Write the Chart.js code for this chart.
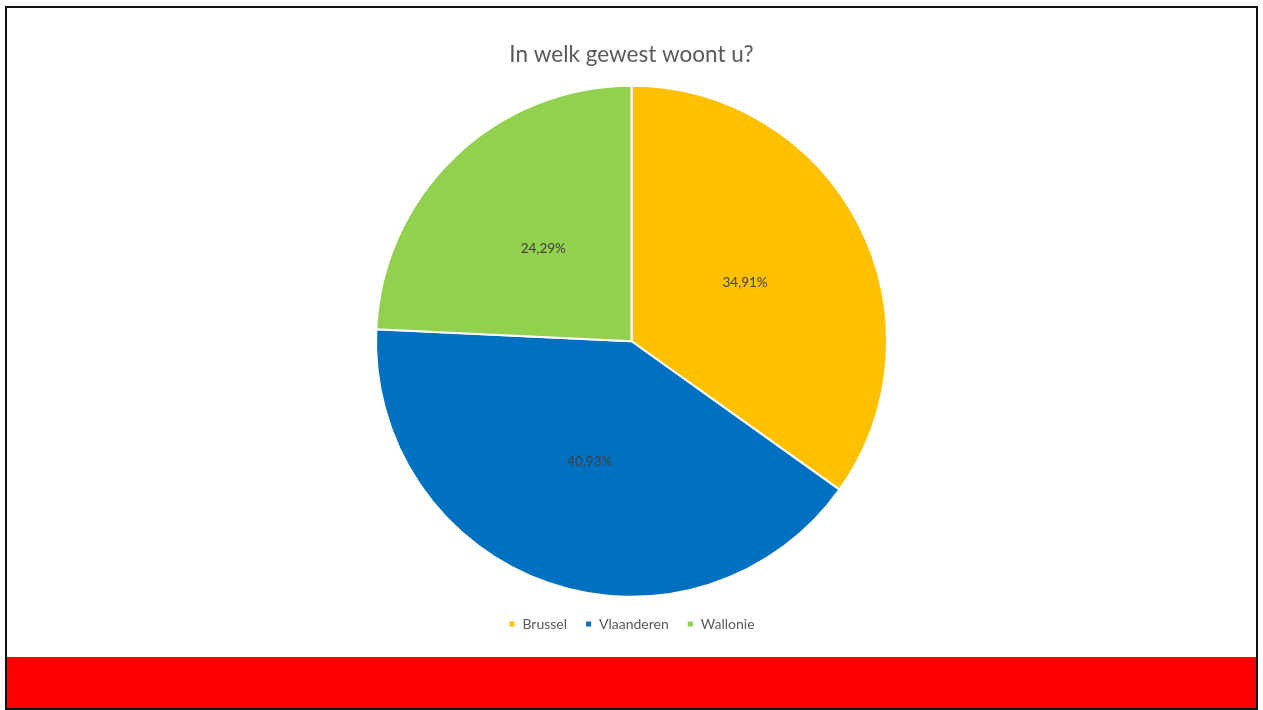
<!DOCTYPE html>
<html lang="nl">
<head>
    <meta charset="UTF-8">
    <title>In welk gewest woont u?</title>
    <script src="https://cdn.jsdelivr.net/npm/chart.js"></script>
    <style>
        html, body {
            margin: 0;
            padding: 0;
            background: white;
            width: 1263px;
            height: 710px;
            overflow: hidden;
        }
        .kader {
            position: absolute;
            left: 5px;
            top: 6px;
            width: 1253px;
            height: 704px;
            border: 2px solid #111;
            box-sizing: border-box;
        }
        .band {
            position: absolute;
            left: 7px;
            top: 657px;
            width: 1249px;
            height: 51px;
            background: #ff0000;
        }
        .grafiek {
            position: absolute;
            left: 7px;
            top: 8px;
            width: 1249px;
            height: 649px;
        }
    </style>
</head>
<body>
    <div class="kader"></div>
    <div class="band"></div>
    <div class="grafiek">
        <canvas id="chartGewest" width="1249" height="649"></canvas>
    </div>

    <script>
        const gewesten = ['Brussel', 'Vlaanderen', 'Wallonie'];
        const percentages = [34.91, 40.93, 24.29];
        const kleuren = ['#FFC000', '#0070C0', '#92D050'];

        const lettertype = 'Lato, "Open Sans", sans-serif';

        // percentages in het midden van elke taartpunt
        const percentLabels = {
            id: 'percentLabels',
            afterDatasetsDraw(chart) {
                const ctx = chart.ctx;
                const meta = chart.getDatasetMeta(0);
                ctx.save();
                ctx.font = '13.5px ' + lettertype;
                ctx.fillStyle = '#404040';
                ctx.textAlign = 'center';
                ctx.textBaseline = 'middle';
                meta.data.forEach((arc, i) => {
                    const p = arc.getCenterPoint();
                    const tekst = percentages[i].toFixed(2).replace('.', ',') + '%';
                    ctx.fillText(tekst, p.x, p.y);
                });
                ctx.restore();
            }
        };

        const ctx = document.getElementById('chartGewest').getContext('2d');
        new Chart(ctx, {
            type: 'pie',
            data: {
                labels: gewesten,
                datasets: [{
                    data: percentages,
                    backgroundColor: kleuren,
                    borderColor: '#ffffff',
                    borderWidth: 2
                }]
            },
            options: {
                responsive: false,
                animation: false,
                radius: 255.5,
                layout: {
                    padding: { top: 0, bottom: 16, left: 0, right: 0 }
                },
                plugins: {
                    title: {
                        display: true,
                        text: 'In welk gewest woont u?',
                        color: '#595959',
                        font: { family: lettertype, size: 22.5, weight: 'normal' },
                        padding: { top: 33.5, bottom: 15 }
                    },
                    legend: {
                        position: 'bottom',
                        labels: {
                            boxWidth: 7,
                            boxHeight: 7,
                            padding: 18,
                            color: '#595959',
                            font: { family: lettertype, size: 14 }
                        }
                    },
                    tooltip: { enabled: false }
                }
            },
            plugins: [percentLabels]
        });
    </script>
</body>
</html>
